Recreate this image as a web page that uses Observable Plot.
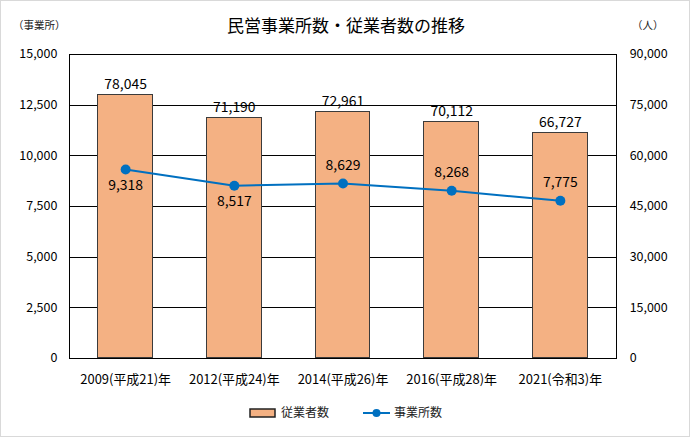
<!DOCTYPE html>
<html>
<head>
<meta charset="utf-8">
<script src="https://cdn.jsdelivr.net/npm/d3@7"></script>
<script src="https://cdn.jsdelivr.net/npm/@observablehq/plot@0.6"></script>
<style>
  html, body { margin: 0; padding: 0; background: #fff; }
  #wrap { position: relative; width: 690px; height: 437px; box-sizing: border-box; border: 1px solid #d9d9d9; overflow: hidden; font-family: "Noto Sans CJK JP", "Noto Sans", sans-serif; color: #000; }
  #wrap svg { position: absolute; left: -1px; top: -1px; }
  .abs { position: absolute; white-space: nowrap; line-height: 1; }
  #title { left: 0; width: 690px; text-align: center; top: 15px; font-size: 17px; }
  #unitL { left: 12px; top: 19px; font-size: 10.5px; color: #222; }
  #unitR { left: 631px; top: 19px; font-size: 10.5px; color: #222; }
  #legend { top: 404px; left: 0; width: 690px; font-size: 12px; color: #222; }
  .sw { position: absolute; }
</style>
</head>
<body>
<div id="wrap">
  <div id="chart"></div>
  <div id="title" class="abs">民営事業所数・従業者数の推移</div>
  <div id="unitL" class="abs">（事業所）</div>
  <div id="unitR" class="abs">（人）</div>
  <div id="legend" class="abs"></div>
</div>
<script>
const years = ["2009(平成21)年", "2012(平成24)年", "2014(平成26)年", "2016(平成28)年", "2021(令和3)年"];
const employees = [78045, 71190, 72961, 70112, 66727];      // 従業者数 (right axis)
const establishments = [9318, 8517, 8629, 8268, 7775];      // 事業所数 (left axis)
const leftTicks = [0, 2500, 5000, 7500, 10000, 12500, 15000];
const seriesNames = ["従業者数", "事業所数"];

const ratio = 90000 / 15000; // right axis / left axis
const data = years.map((y, i) => ({year: y, emp: employees[i], est: establishments[i], i}));
const fmt = d3.format(",");

const barColor = "#F4B183";
const lineColor = "#0070C0";

const chart = Plot.plot({
  width: 690,
  height: 437,
  marginLeft: 69,
  marginRight: 72,
  marginTop: 54,
  marginBottom: 78,
  style: {fontFamily: "'Noto Sans CJK JP', 'Noto Sans', sans-serif", fontSize: "12px", color: "#000", background: "transparent"},
  x: {domain: years, paddingInner: 0.5, paddingOuter: 0.25, label: null},
  y: {domain: [0, 15000], label: null},
  marks: [
    Plot.gridY(leftTicks, {stroke: "#000", strokeOpacity: 1, strokeWidth: 1, shapeRendering: "crispEdges"}),
    Plot.barY(data, {x: "year", y: d => d.emp / ratio, fill: barColor, stroke: "#3a3a3a", strokeWidth: 1, shapeRendering: "crispEdges"}),
    Plot.frame({stroke: "#000", strokeWidth: 1, shapeRendering: "crispEdges"}),
    Plot.axisY(leftTicks, {anchor: "left", tickSize: 0, tickPadding: 12, tickFormat: fmt, label: null, fontSize: 12.5}),
    Plot.axisY(leftTicks, {anchor: "right", tickSize: 0, tickPadding: 13, tickFormat: d => fmt(d * ratio), label: null, fontSize: 12.5}),
    Plot.axisX({tickSize: 0, tickPadding: 16, label: null, fontSize: 13}),
    Plot.line(data, {x: "year", y: "est", stroke: lineColor, strokeWidth: 2}),
    Plot.dot(data, {x: "year", y: "est", fill: lineColor, r: 5}),
    Plot.text(data, {x: "year", y: d => d.emp / ratio, text: d => fmt(d.emp), dy: -10, fontSize: 14, fill: "#000"}),
    Plot.text(data.filter(d => d.i < 2), {x: "year", y: "est", text: d => fmt(d.est), dy: 16, fontSize: 14, fill: "#000"}),
    Plot.text(data.filter(d => d.i >= 2), {x: "year", y: "est", text: d => fmt(d.est), dy: -18, fontSize: 14, fill: "#000"})
  ]
});
document.getElementById("chart").appendChild(chart);

// Legend
const legend = document.getElementById("legend");
legend.innerHTML = `
  <svg class="sw" style="left:248px;top:2px" width="28" height="12"><rect x="1" y="2" width="25" height="8" fill="${barColor}" stroke="#222" stroke-width="1.5"/></svg>
  <span class="abs" style="left:280px;top:1px">${seriesNames[0]}</span>
  <svg class="sw" style="left:361px;top:1px" width="30" height="14"><line x1="1" y1="7" x2="28" y2="7" stroke="${lineColor}" stroke-width="2"/><circle cx="14.5" cy="7" r="4" fill="${lineColor}"/></svg>
  <span class="abs" style="left:393px;top:1px">${seriesNames[1]}</span>
`;
</script>
</body>
</html>
